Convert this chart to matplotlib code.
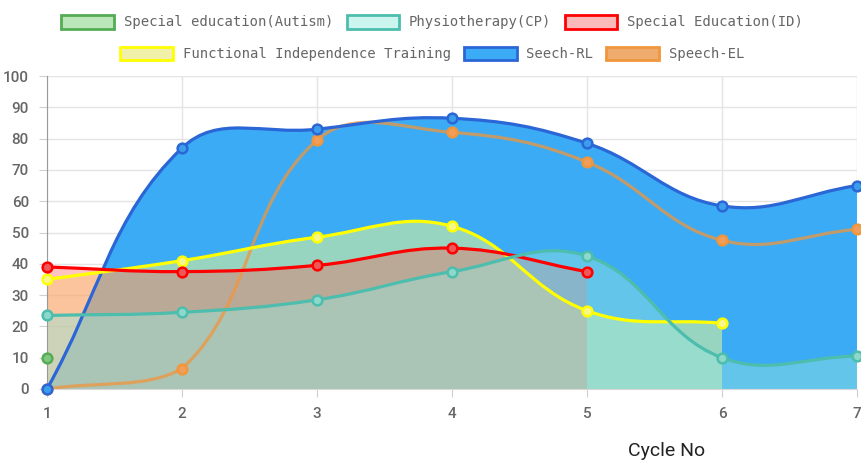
import numpy as np
import matplotlib
matplotlib.use("Agg")
import matplotlib.pyplot as plt
from matplotlib.path import Path
from matplotlib.patches import PathPatch, Patch

# values
cycles = [1, 2, 3, 4, 5, 6, 7]
autism = [10]
physio = [23.5, 24.5, 28.5, 37.5, 42.5, 10, 10.5]
spec_id = [39, 37.5, 39.5, 45, 37.5]
fit = [35, 41, 48.5, 52, 25, 21]
speech_rl = [0, 77, 83, 86.5, 78.5, 58.5, 65]
speech_el = [0, 6.5, 79.5, 82, 72.5, 47.5, 51]

labels = ["Special education(Autism)", "Physiotherapy(CP)", "Special Education(ID)",
          "Functional Independence Training", "Seech-RL", "Speech-EL"]

# (line colour, fill colour, legend box fill, marker fill)
styles = [
    ((0.33, 0.68, 0.33), (0.45, 0.80, 0.45, 0.45), (0.73, 0.90, 0.73), (0.50, 0.78, 0.50)),
    ((0.30, 0.74, 0.68), (0.59, 0.90, 0.86, 0.45), (0.80, 0.96, 0.94), (0.55, 0.85, 0.80)),
    ((1.0, 0.0, 0.0), (1.0, 0.33, 0.30, 0.34), (0.98, 0.73, 0.73), (0.93, 0.35, 0.35)),
    ((1.0, 1.0, 0.0), (0.96, 1.0, 0.55, 0.50), (0.94, 0.94, 0.67), (0.97, 0.97, 0.55)),
    ((0.17, 0.40, 0.84), (0.23, 0.67, 0.96, 1.0), (0.23, 0.67, 0.96), (0.23, 0.62, 0.93)),
    ((0.94, 0.59, 0.24), (0.94, 0.60, 0.30, 0.6), (0.94, 0.67, 0.43), (0.94, 0.62, 0.35)),
]

series = [autism, physio, spec_id, fit, speech_rl, speech_el]

SX, SY = 135.0, 3.13  # px per unit, used for spline tension


def spline(xs, ys, t=0.4):
    xs = np.asarray(xs, float)
    ys = np.asarray(ys, float)
    n = len(xs)
    px, py = xs * SX, ys * SY
    cprev, cnext = [], []
    for i in range(n):
        p, q = max(i - 1, 0), min(i + 1, n - 1)
        d01 = np.hypot(px[i] - px[p], py[i] - py[p])
        d12 = np.hypot(px[q] - px[i], py[q] - py[i])
        tot = d01 + d12
        s01 = d01 / tot if tot else 0
        s12 = d12 / tot if tot else 0
        dx, dy = xs[q] - xs[p], ys[q] - ys[p]
        cprev.append((np.clip(xs[i] - t * s01 * dx, 1, 7), np.clip(ys[i] - t * s01 * dy, 0, 100)))
        cnext.append((np.clip(xs[i] + t * s12 * dx, 1, 7), np.clip(ys[i] + t * s12 * dy, 0, 100)))
    verts = [(xs[0], ys[0])]
    codes = [Path.MOVETO]
    for i in range(n - 1):
        verts += [cnext[i], cprev[i + 1], (xs[i + 1], ys[i + 1])]
        codes += [Path.CURVE4] * 3
    return verts, codes


fig = plt.figure(figsize=(8.61, 4.72), dpi=100)
ax = fig.add_axes([47 / 861, 83 / 472, 810 / 861, 313 / 472])
ax.set_xlim(1, 7)
ax.set_ylim(0, 100)

# fills first, last dataset at the bottom
z = 1
for vals, (lc, fc, _, _) in reversed(list(zip(series, styles))):
    if len(vals) < 2:
        continue
    xs = cycles[:len(vals)]
    verts, codes = spline(xs, vals)
    verts = verts + [(xs[-1], 0), (xs[0], 0), (xs[0], 0)]
    codes = codes + [Path.LINETO, Path.LINETO, Path.CLOSEPOLY]
    ax.add_patch(PathPatch(Path(verts, codes), facecolor=fc, edgecolor="none", zorder=z))
    z += 0.1

# then lines and points
z = 3
for idx, (vals, (lc, fc, bc, mc)) in reversed(list(enumerate(zip(series, styles)))):
    xs = cycles[:len(vals)]
    if len(vals) > 1:
        verts, codes = spline(xs, vals)
        alpha = 0.75 if idx == 5 else 1.0
        ax.add_patch(PathPatch(Path(verts, codes), facecolor="none", edgecolor=lc,
                               lw=2.3, alpha=alpha, zorder=z))
    ax.plot(xs, vals, "o", ms=7, mfc=mc, mec=lc, mew=1.8, clip_on=False, zorder=z + 0.05)
    z += 0.1

ax.set_xticks(cycles)
ax.set_yticks(range(0, 101, 10))
ax.grid(color="#e4e4e4", lw=1)
ax.set_axisbelow(True)
for s in ["top", "right"]:
    ax.spines[s].set_visible(False)
ax.spines["left"].set_color("#999999")
ax.spines["bottom"].set_color("#d8d8d8")
ax.tick_params(length=6, color="#d0d0d0", labelcolor="#666666", labelsize=11, pad=7)
for lab in ax.get_xticklabels() + ax.get_yticklabels():
    lab.set_family("Roboto")
    lab.set_fontweight("medium")

fig.text(667 / 861, 1 - 451 / 472, "Cycle No", ha="center", va="center",
         fontsize=14, family="Roboto", color="#222222")

handles = [Patch(facecolor=bc, edgecolor=lc, lw=2) for (lc, fc, bc, mc) in styles]
kw = dict(frameon=False, prop={"family": "DejaVu Sans Mono", "size": 10},
          handlelength=3.8, handleheight=1.15, handletextpad=0.7, columnspacing=0.95,
          labelcolor="#666666", loc="center", ncol=3, borderaxespad=0, borderpad=0)
fig.legend(handles[:3], labels[:3], bbox_to_anchor=(0.502, 0.953), **kw)
fig.legend(handles[3:], labels[3:], bbox_to_anchor=(0.502, 0.886), **kw)

fig.savefig("out.png", dpi=100)
